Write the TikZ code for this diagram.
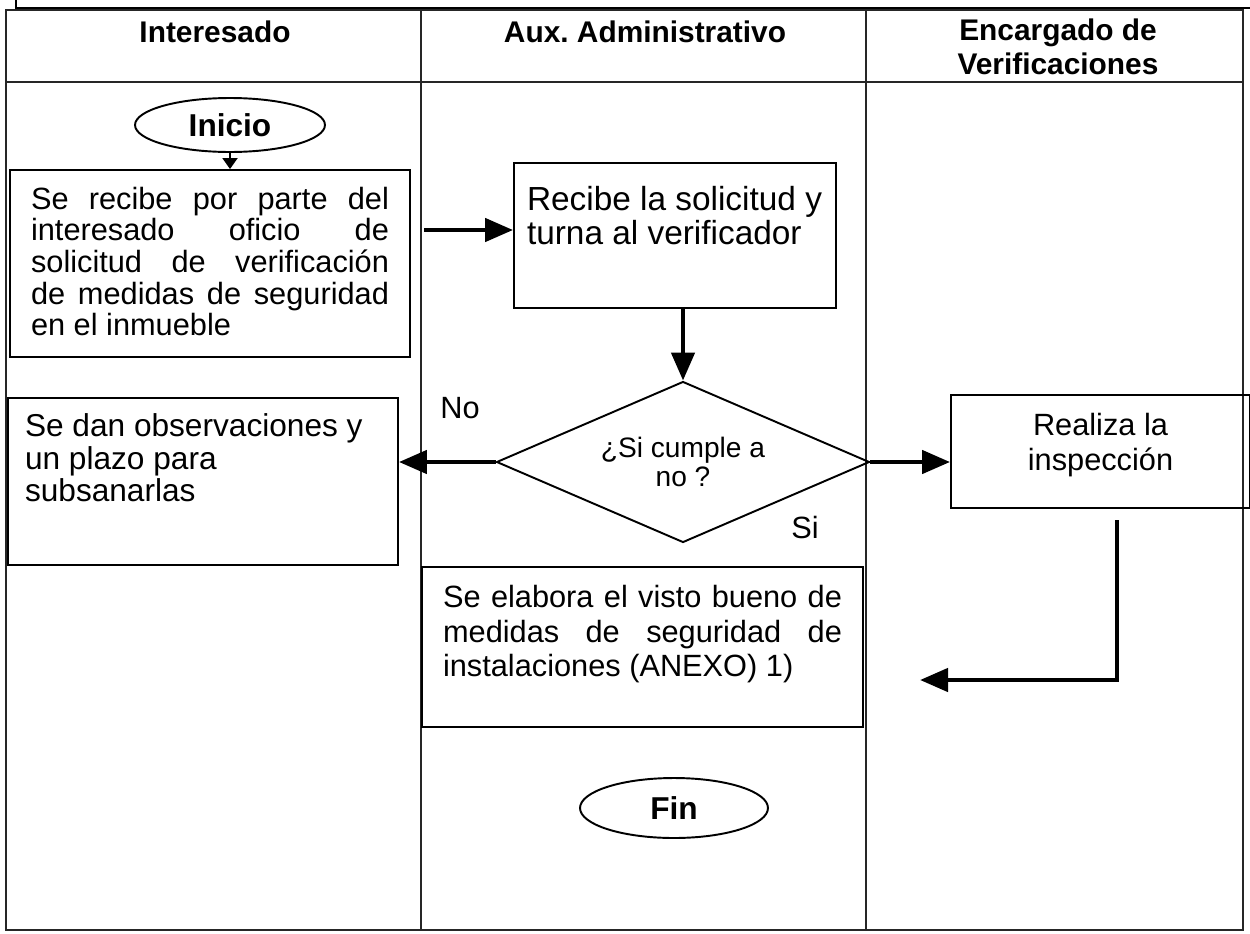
\documentclass[tikz,border=0pt]{standalone}
\usepackage{fontspec}
\setmainfont{Liberation Sans}
\usetikzlibrary{arrows.meta,shapes.geometric}
\newcommand\jl[1]{\makebox[\linewidth][s]{#1}}
\newcommand\bodyfont{\fontsize{17.5}{18}\selectfont}
\begin{document}
\begin{tikzpicture}[x=0.02cm,y=-0.02cm,
  tbl/.style={line width=0.6pt, draw=black!85},
  procbox/.style={draw, line width=1.1pt, rectangle, inner ysep=0pt},
  term/.style={draw, ellipse, line width=1.1pt, inner sep=0pt, font=\fontsize{18}{19}\selectfont\bfseries},
  flow/.style={line width=2.6pt, -{Triangle[length=0.56cm,width=0.46cm]}},
  hdr/.style={font=\fontsize{17}{19}\selectfont\bfseries, align=center},
  lbl/.style={font=\fontsize{17.5}{19}\selectfont, inner sep=0pt}
]
\useasboundingbox (0,0) rectangle (1250,933);
\fill[white] (0,0) rectangle (1250,933);
% frame and table
\draw[line width=1.2pt] (16,0) -- (16,8) -- (1250,8);
\draw[tbl] (6,10) rectangle (1243,930);
\draw[tbl] (6,82) -- (1243,82);
\draw[tbl] (421,10) -- (421,930);
\draw[tbl] (866,10) -- (866,930);
\node[hdr] (h1) at (215,32) {Interesado};
\node[hdr] (h2) at (645,32) {Aux.\ Administrativo};
\node[hdr] (h3) at (1058,47) {Encargado de\\Verificaciones};
% nodes
\node[term, minimum width=3.8cm, minimum height=1.08cm] (ini) at (230,125) {Inicio};
\node[procbox, inner xsep=0.42cm] (b1) at (210,263.5) {\parbox[c][3.74cm][t]{7.16cm}{\bodyfont\vspace*{0.34cm}%
\jl{Se recibe por parte del}\par
\jl{interesado oficio de}\par
\jl{solicitud de verificación}\par
\jl{de medidas de seguridad}\par
en el inmueble}};
\node[procbox, inner xsep=0.26cm] (b2) at (675,235.5) {\parbox[c][2.9cm][t]{5.92cm}{\fontsize{19}{19.5}\selectfont\vspace*{0.46cm}%
Recibe la solicitud y\par turna al verificador}};
\node[draw, diamond, aspect=2.3, line width=1.1pt, minimum width=7.46cm, minimum height=3.22cm, inner sep=0pt, align=center, font=\fontsize{16}{17}\selectfont] (dia) at (683,462) {¿Si cumple a\\no ?};
\node[lbl] (no) at (460,408) {No};
\node[lbl] (si) at (805,528) {Si};
\node[procbox, inner xsep=0.34cm] (b3) at (203,481.5) {\parbox[c][3.34cm][t]{7.12cm}{\fontsize{18}{18.5}\selectfont\vspace*{0.32cm}%
Se dan observaciones y\par un plazo para\par subsanarlas}};
\node[procbox, inner xsep=0.2cm] (b5) at (1100.5,451.5) {\parbox[c][2.26cm][t]{5.58cm}{\centering\fontsize{17.5}{19.8}\selectfont\vspace*{0.36cm}%
Realiza la\par inspección}};
\node[procbox, inner xsep=0.42cm] (b4) at (642.5,647) {\parbox[c][3.2cm][t]{7.98cm}{\fontsize{17.5}{19.8}\selectfont\vspace*{0.36cm}%
\jl{Se elabora el visto bueno de}\par
\jl{medidas de seguridad de}\par
instalaciones (ANEXO) 1)}};
\node[term, minimum width=3.76cm, minimum height=1.2cm] (fin) at (674,808) {Fin};
% connectors
\draw[line width=1.1pt, -{Triangle[length=0.22cm,width=0.3cm]}] (ini.south) -- (ini.south |- b1.north);
\coordinate (s1) at (424,230);
\draw[flow] (s1) -- (s1 -| b2.west);
\draw[flow] (dia.north |- b2.south) -- (dia.north);
\draw[flow] (dia.west) -- (dia.west -| b3.east);
\draw[flow] (dia.east) -- (dia.east -| b5.west);
\coordinate (r1) at (1117,520);
\coordinate (r3) at (920,680);
\draw[flow] (r1) |- (r3);
\end{tikzpicture}
\end{document}
